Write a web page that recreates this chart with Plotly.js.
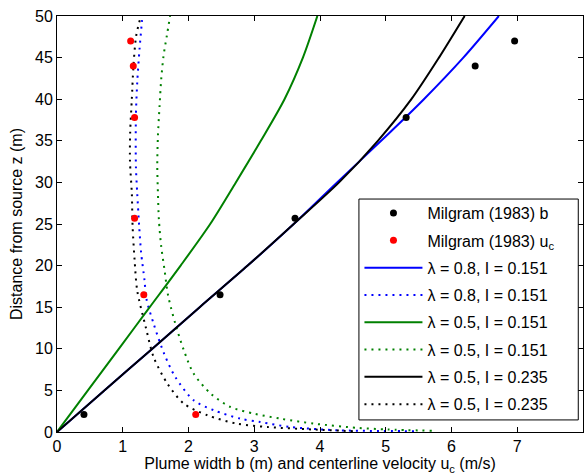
<!DOCTYPE html>
<html>
<head>
<meta charset="utf-8">
<script src="https://cdn.plot.ly/plotly-3.0.1.min.js"></script>
<style>html,body{margin:0;padding:0;background:#fff;}#chart{width:587px;height:475px;}</style>
</head>
<body>
<div id="chart"></div>
<script>
// Milgram (1983) measurements
var milgramZ = [2.1, 16.5, 25.7, 37.8, 44.0, 47.0];
var milgramB = [0.41, 2.48, 3.62, 5.31, 6.36, 6.96];
var milgramUc = [2.11, 1.32, 1.18, 1.18, 1.16, 1.12];

// Plume width b (solid lines)
var solidZ = [0, 5, 10, 15, 20, 25, 30, 35, 40, 45, 50];
var bBlue  = [0, 0.72, 1.45, 2.17, 2.90, 3.60, 4.26, 4.93, 5.58, 6.18, 6.72];
var bGreen = [0, 0.47, 0.94, 1.41, 1.88, 2.33, 2.72, 3.10, 3.46, 3.74, 3.96];
var bBlack = [0, 0.72, 1.45, 2.17, 2.90, 3.60, 4.29, 4.88, 5.39, 5.81, 6.20];

// Centerline velocity uc (dotted lines)
var ucBlueZ  = [0.1, 0.2, 0.6, 1.2, 1.6, 2.6, 3.8, 6.6, 9.4, 13.0, 16.0, 18.3, 21.5, 24.7, 28.7, 32.0, 38.0, 42.0, 46.0, 49.2, 50.0];
var ucBlue   = [5.43, 4.31, 3.55, 3.09, 2.79, 2.39, 2.08, 1.80, 1.63, 1.47, 1.36, 1.33, 1.28, 1.25, 1.22, 1.20, 1.20, 1.22, 1.255, 1.29, 1.30];
var ucGreenZ = [0.15, 0.3, 0.5, 1.0, 1.6, 2.2, 3.0, 4.6, 7.0, 9.8, 13.0, 16.4, 19.5, 22.3, 25.5, 28.7, 32.0, 35.6, 39.2, 42.4, 45.2, 47.6, 50.0];
var ucGreen  = [5.70, 5.03, 4.57, 3.91, 3.40, 3.00, 2.64, 2.34, 2.08, 1.93, 1.80, 1.69, 1.635, 1.585, 1.55, 1.535, 1.525, 1.535, 1.56, 1.585, 1.62, 1.67, 1.72];
var ucBlackZ = [0.1, 0.3, 0.6, 1.0, 2.0, 3.4, 5.8, 9.0, 12.6, 17.0, 20.7, 24.7, 28.7, 32.5, 36.0, 40.0, 44.0, 47.6, 50.0];
var ucBlack  = [4.50, 3.90, 3.20, 2.74, 2.29, 1.93, 1.68, 1.47, 1.35, 1.22, 1.18, 1.15, 1.138, 1.11, 1.113, 1.138, 1.163, 1.204, 1.276];

var labels = ['Milgram (1983) b', 'Milgram (1983) u<sub>c</sub>',
  'λ = 0.8, I = 0.151', 'λ = 0.8, I = 0.151',
  'λ = 0.5, I = 0.151', 'λ = 0.5, I = 0.151',
  'λ = 0.5, I = 0.235', 'λ = 0.5, I = 0.235'];

var BLUE = '#0000ff', GREEN = '#008000', BLACK = '#000000', RED = '#ff0000';
var dotDash = '2px,5px';

function line(x, y, color, dash, name, rank) {
  return {x: x, y: y, mode: 'lines', type: 'scatter', name: name, legendrank: rank,
    legendgroup: 'g' + rank,
    line: {color: color, width: 2, dash: dash, shape: 'spline', smoothing: 0.8},
    hoverinfo: 'skip'};
}

var traces = [
  line(bBlue, solidZ, BLUE, 'solid', labels[2], 3),
  line(ucBlue, ucBlueZ, BLUE, dotDash, labels[3], 4),
  line(bGreen, solidZ, GREEN, 'solid', labels[4], 5),
  line(ucGreen, ucGreenZ, GREEN, dotDash, labels[5], 6),
  line(bBlack, solidZ, BLACK, 'solid', labels[6], 7),
  line(ucBlack, ucBlackZ, BLACK, dotDash, labels[7], 8),
  {x: milgramB, y: milgramZ, mode: 'markers', type: 'scatter', name: labels[0], legendrank: 1, legendgroup: 'g1',
    marker: {color: BLACK, size: 7, symbol: 'circle'}},
  {x: milgramUc, y: milgramZ, mode: 'markers', type: 'scatter', name: labels[1], legendrank: 2, legendgroup: 'g2',
    marker: {color: RED, size: 7, symbol: 'circle'}}
];

var font = {family: 'Liberation Sans, Arial, sans-serif', size: 16, color: '#000'};

var layout = {
  width: 587, height: 475,
  margin: {l: 57, r: 4, t: 16, b: 43},
  paper_bgcolor: '#fff', plot_bgcolor: '#fff',
  font: font,
  showlegend: true,
  xaxis: {
    range: [0, 8], dtick: 1, tick0: 0, showgrid: false, zeroline: false,
    showline: true, linecolor: '#000', linewidth: 1, mirror: 'ticks',
    ticks: 'inside', ticklen: 5, tickcolor: '#000',
    tickfont: font,
    title: {text: 'Plume width b (m) and centerline velocity u<sub>c</sub> (m/s)', font: font, standoff: 3}
  },
  yaxis: {
    range: [0, 50], dtick: 5, tick0: 0, showgrid: false, zeroline: false,
    showline: true, linecolor: '#000', linewidth: 1, mirror: 'ticks',
    ticks: 'inside', ticklen: 5, tickcolor: '#000',
    tickfont: font,
    title: {text: 'Distance from source z (m)', font: font, standoff: 8}
  },
  // legend frame (white box with black border, drawn above the curves)
  shapes: [{
    type: 'rect', xref: 'paper', yref: 'paper', layer: 'above',
    x0: 0.574, x1: 0.991, y0: 0.029, y1: 0.56,
    fillcolor: '#fff', line: {color: '#000', width: 1}
  }],
  legend: {
    x: 0.575, y: 0.567, xanchor: 'left', yanchor: 'top',
    bgcolor: 'rgba(0,0,0,0)', borderwidth: 0,
    font: font, tracegroupgap: 3.5, itemwidth: 58,
    traceorder: 'grouped'
  }
};

Plotly.newPlot('chart', traces, layout, {displayModeBar: false, staticPlot: true});
</script>
</body>
</html>
